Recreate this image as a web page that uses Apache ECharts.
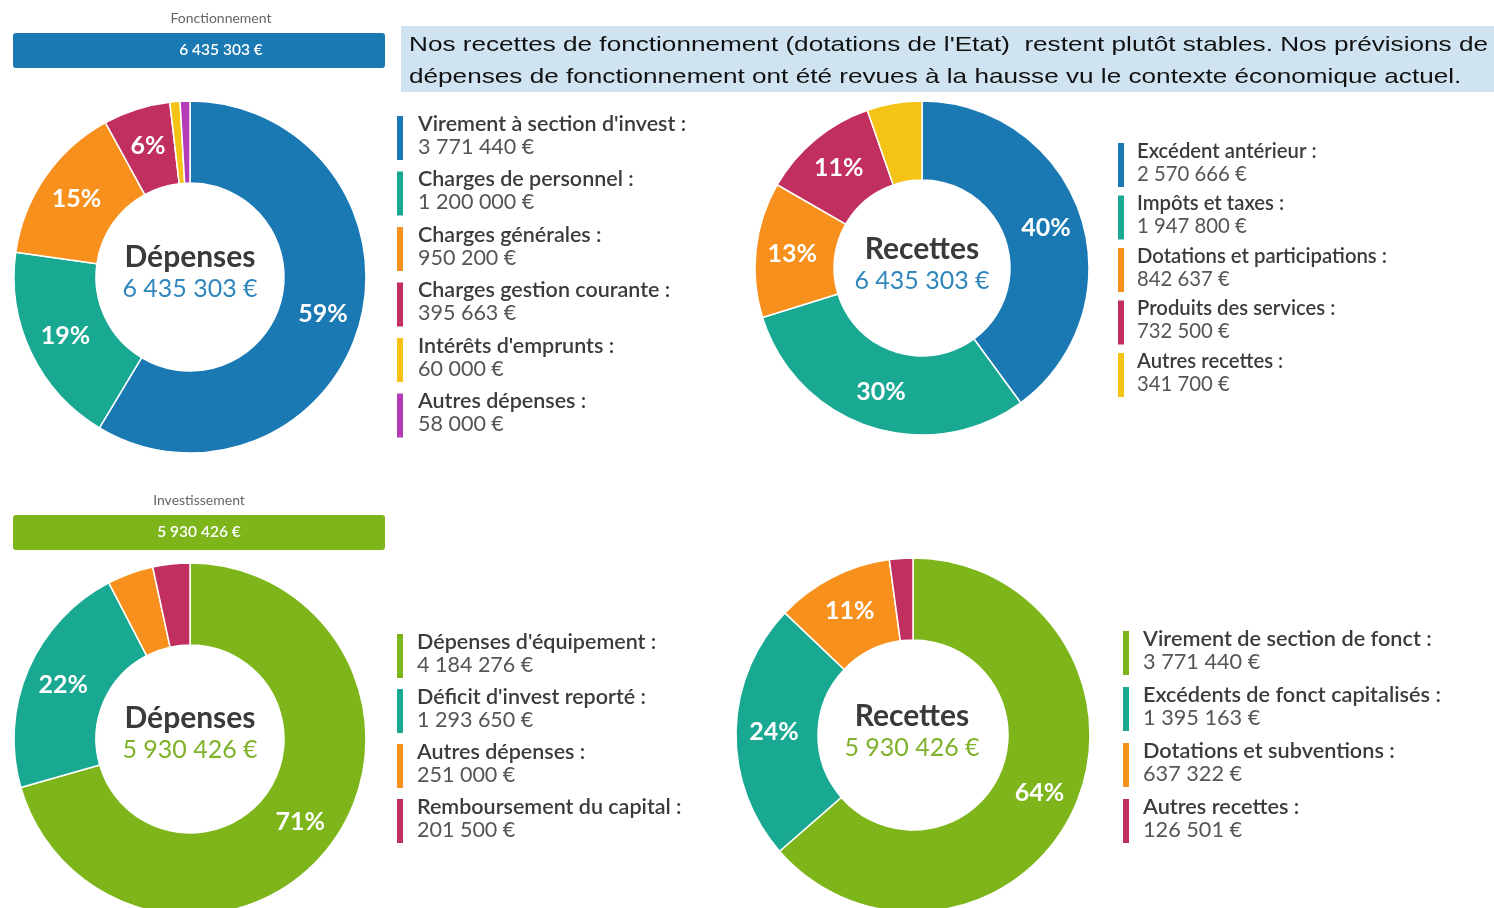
<!DOCTYPE html>
<html><head><meta charset="utf-8">
<script src="https://cdn.jsdelivr.net/npm/echarts@6/dist/echarts.min.js"></script>
<style>html,body{margin:0;padding:0;background:#fff}#c{width:1494px;height:908px}</style>
</head><body><div id="c"></div>
<script>
// ---- data ----
const fonctTotal = 6435303;
const investTotal = 5930426;
const depFonctNames = ["Virement à section d'invest", "Charges de personnel", "Charges générales", "Charges gestion courante", "Intérêts d'emprunts", "Autres dépenses"];
const depFonctValues = [3771440, 1200000, 950200, 395663, 60000, 58000];
const recFonctNames = ["Excédent antérieur", "Impôts et taxes", "Dotations et participations", "Produits des services", "Autres recettes"];
const recFonctValues = [2570666, 1947800, 842637, 732500, 341700];
const depInvNames = ["Dépenses d'équipement", "Déficit d'invest reporté", "Autres dépenses", "Remboursement du capital"];
const depInvValues = [4184276, 1293650, 251000, 201500];
const recInvNames = ["Virement de section de fonct", "Excédents de fonct capitalisés", "Dotations et subventions", "Autres recettes"];
const recInvValues = [3771440, 1395163, 637322, 126501];
const introText = ["Nos recettes de fonctionnement (dotations de l'Etat)  restent plutôt stables. Nos prévisions de",
                   "dépenses de fonctionnement ont été revues à la hausse vu le contexte économique actuel."];

// ---- styles ----
const C = {blue:'#1a78b3', teal:'#19a892', orange:'#f7901c', mag:'#c12f5e', yellow:'#f5c315', purple:'#b43bb6', green:'#7db51b'};
const pal1 = [C.blue, C.teal, C.orange, C.mag, C.yellow, C.purple];
const pal2 = [C.blue, C.teal, C.orange, C.mag, C.yellow];
const pal3 = [C.green, C.teal, C.orange, C.mag];
const pal4 = [C.green, C.teal, C.orange, C.mag];
const F = 'Lato, "Open Sans", sans-serif';

function fmt(v, sp){ sp = sp || ' '; return String(v).replace(/\B(?=(\d{3})+(?!\d))/g, sp) + sp + '€'; }

function pieSeries(names, values, colors, center, radius){
  return {
    type:'pie', center:center, radius:radius, startAngle:90, clockwise:true, silent:true,
    avoidLabelOverlap:false,
    itemStyle:{borderColor:'#fff', borderWidth:1.5},
    label:{show:true, position:'inside', color:'#fff', fontFamily:F, fontWeight:'bold', fontSize:25,
      formatter:p => p.percent >= 5.8 ? Math.round(p.percent) + '%' : ''},
    labelLine:{show:false},
    data:names.map((n,i)=>({name:n, value:values[i], itemStyle:{color:colors[i]}}))
  };
}

const graphics = [];
function legend(names, values, colors, bx, tx, y0, step, fs){
  names.forEach((n,i)=>{
    const y = y0 + step*i;
    graphics.push({type:'rect', shape:{x:bx, y:y-8, width:6, height:44}, style:{fill:colors[i]}});
    graphics.push({type:'text', x:tx, y:y, style:{text:n+' :', font:'600 '+fs+'px '+F, fill:'#3b3b3b', textVerticalAlign:'middle'}});
    graphics.push({type:'text', x:tx, y:y+23, style:{text:fmt(values[i]), font:fs+'px '+F, fill:'#555', textVerticalAlign:'middle'}});
  });
}
function centerText(title, total, color, x, y){
  graphics.push({type:'text', x:x, y:y, style:{text:title, font:'bold 30px '+F, fill:'#3a3a3a', textAlign:'center', textVerticalAlign:'middle'}});
  graphics.push({type:'text', x:x, y:y+32, style:{text:fmt(total), font:'25px '+F, fill:color, textAlign:'center', textVerticalAlign:'middle'}});
}
function header(label, total, color, y, cx){
  graphics.push({type:'text', x:cx, y:y, style:{text:label, font:'14px '+F, fill:'#666', textAlign:'center', textVerticalAlign:'middle'}});
  graphics.push({type:'rect', shape:{x:13, y:y+15, width:372, height:35, r:3}, style:{fill:color}});
  graphics.push({type:'text', x:cx, y:y+32, style:{text:fmt(total), font:'600 15.5px '+F, fill:'#fff', textAlign:'center', textVerticalAlign:'middle'}});
}

// intro box
graphics.push({type:'rect', shape:{x:401, y:26, width:1093, height:66}, style:{fill:'#cfe4f0'}});
introText.forEach((t,i)=>graphics.push({type:'text', x:409, y:45+32*i, scaleX:1.245, style:{text:t, font:'21px "Liberation Sans", Arial, sans-serif', fill:'#111', textVerticalAlign:'middle'}}));

header('Fonctionnement', fonctTotal, '#1a78b3', 18, 221);
header('Investissement', investTotal, '#7db51b', 500, 199);

legend(depFonctNames, depFonctValues, pal1, 397, 418, 124, 55.5, 21.5);
legend(recFonctNames, recFonctValues, pal2, 1118, 1137, 151, 52.5, 20.3);
legend(depInvNames, depInvValues, pal3, 397, 417, 642, 55, 21.5);
legend(recInvNames, recInvValues, pal4, 1123, 1143, 639, 56, 21.7);

centerText('Dépenses', fonctTotal, '#2f87bd', 190, 257);
centerText('Recettes', fonctTotal, '#2f87bd', 922, 249);
centerText('Dépenses', investTotal, '#7fb12a', 190, 718);
centerText('Recettes', investTotal, '#7fb12a', 912, 716);

const chart = echarts.init(document.getElementById('c'));
chart.setOption({
  animation:false,
  backgroundColor:'#fff',
  series:[
    pieSeries(depFonctNames, depFonctValues, pal1, [190, 277], [94, 176]),
    pieSeries(recFonctNames, recFonctValues, pal2, [922, 268], [88, 167]),
    pieSeries(depInvNames, depInvValues, pal3, [190, 739], [94, 176]),
    pieSeries(recInvNames, recInvValues, pal4, [913, 735], [95, 177])
  ],
  graphic:graphics
});
</script></body></html>
